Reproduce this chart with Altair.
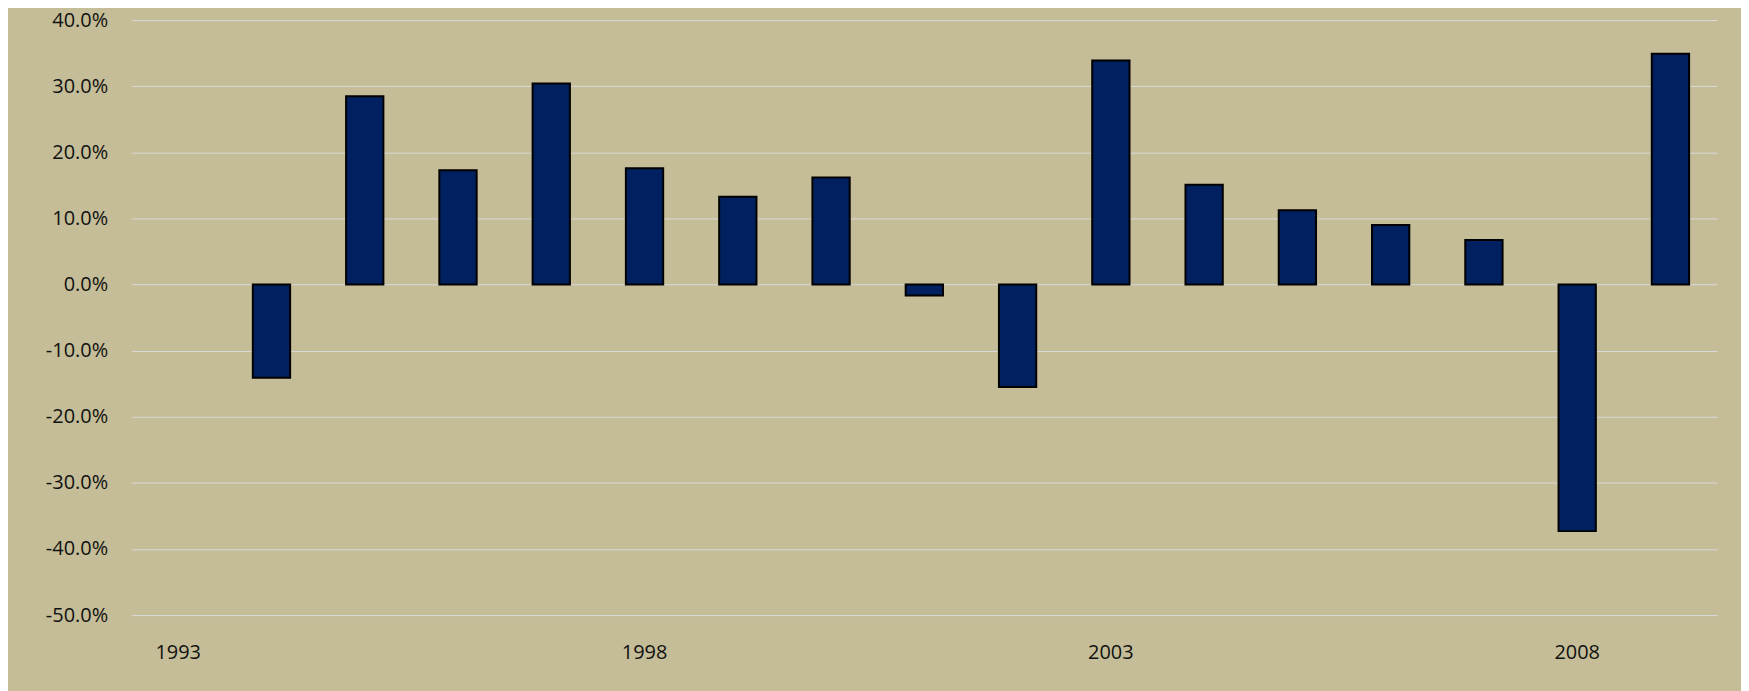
import altair as alt
import pandas as pd

years = [1993, 1994, 1995, 1996, 1997, 1998, 1999, 2000, 2001,
         2002, 2003, 2004, 2005, 2006, 2007, 2008, 2009]
returns = [None, -0.141, 0.285, 0.173, 0.304, 0.176, 0.133, 0.162, -0.0165,
           -0.155, 0.339, 0.151, 0.1125, 0.090, 0.0675, -0.373, 0.349]
y_ticks = [-0.5, -0.4, -0.3, -0.2, -0.1, 0.0, 0.1, 0.2, 0.3, 0.4]
x_labels = [1993, 1998, 2003, 2008]

df = pd.DataFrame({"year": years, "ret": returns}).dropna()

font = "Open Sans"

chart = alt.Chart(df).mark_bar(
    color="#002060", stroke="#000000", strokeWidth=2
).encode(
    x=alt.X("year:O",
            scale=alt.Scale(domain=years, paddingInner=0.6, paddingOuter=0.3),
            axis=alt.Axis(values=x_labels, title=None, labelAngle=0,
                          ticks=False, tickSize=0, domain=False, grid=False,
                          labelPadding=28, labelFontSize=20, labelFont=font,
                          labelColor="#111111")),
    y=alt.Y("ret:Q",
            scale=alt.Scale(domain=[-0.5, 0.4], nice=False, zero=False),
            axis=alt.Axis(values=y_ticks, title=None, ticks=False, tickSize=0,
                          domain=False, grid=True, gridColor="#D9D9D9",
                          gridWidth=1, labelPadding=24, labelFontSize=20,
                          labelFont=font, labelColor="#111111",
                          labelExpr="(datum.value < -0.0001 ? '-' : '') + format(abs(datum.value), '.1%')")),
).properties(
    width=1591, height=597,
    background="#C4BD97",
    autosize=alt.AutoSizeParams(type="none"),
    padding={"left": 124, "top": 11, "right": 24, "bottom": 75},
).configure_view(stroke=None)

chart.save("out.html", embed_options={"renderer": "svg", "actions": False})
